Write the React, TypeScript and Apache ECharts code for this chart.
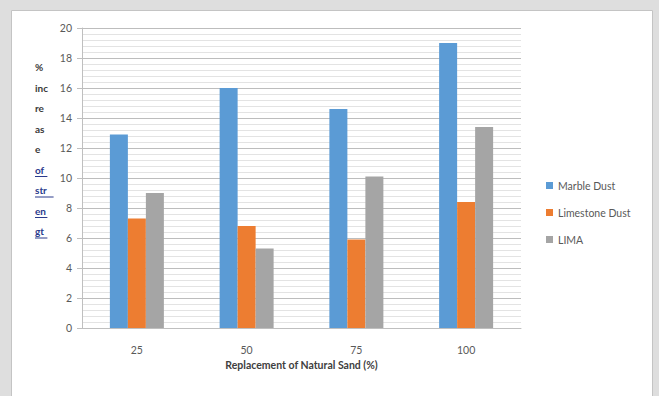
import React, { useEffect, useRef } from "react";
import * as echarts from "echarts";

const categories = ["25", "50", "75", "100"];
const marbleDust = [12.9, 16.0, 14.6, 19.0];
const limestoneDust = [7.3, 6.8, 5.9, 8.4];
const lima = [9.0, 5.3, 10.1, 13.4];
const seriesNames = ["Marble Dust", "Limestone Dust", "LIMA"];
const yTitleLines = ["%", "inc", "re", "as", "e", "of", "str", "en", "gt"];

const FONT = "Lato, 'Open Sans', 'DejaVu Sans', sans-serif";

export default function App() {
  const ref = useRef<HTMLDivElement>(null);

  useEffect(() => {
    if (!ref.current) return;
    const chart = echarts.init(ref.current, null, { renderer: "svg" });

    // wrapped y-axis caption; the last four fragments are link-styled
    const captionTexts = yTitleLines.map((t, i) => ({
      type: "text" as const,
      left: 35,
      top: 62 + i * 20.5,
      style: {
        text: t,
        font: `bold 10px ${FONT}`,
        fill: i >= 5 ? "#2a3a8c" : "#3a3a3a",
      },
    }));
    const underlines = yTitleLines.slice(5).map((t, i) => ({
      type: "line" as const,
      shape: {
        x1: 35,
        y1: 62 + (i + 5) * 20.5 + 12,
        x2: 35 + t.length * 6.2,
        y2: 62 + (i + 5) * 20.5 + 12,
      },
      style: { stroke: "#2a3a8c", lineWidth: 1 },
    }));

    chart.setOption({
      animation: false,
      backgroundColor: "#dedede",
      color: ["#5b9bd5", "#ed7d31", "#a5a5a5"],
      textStyle: { fontFamily: FONT },
      graphic: [
        {
          type: "rect",
          z: -10,
          shape: { x: 11.5, y: 10.5, width: 641, height: 400 },
          style: { fill: "#ffffff", stroke: "#c4c4c4", lineWidth: 1 },
        },
        ...captionTexts,
        ...underlines,
      ],
      grid: { left: 82, right: 138, top: 28, bottom: 68, containLabel: false },
      legend: {
        orient: "vertical",
        left: 541,
        top: 175,
        itemWidth: 7,
        itemHeight: 7,
        itemGap: 16,
        icon: "rect",
        data: seriesNames,
        textStyle: { fontSize: 10.5, color: "#595959", fontFamily: FONT },
      },
      xAxis: {
        type: "category",
        data: categories,
        name: "Replacement of Natural Sand (%)",
        nameLocation: "middle",
        nameGap: 30,
        nameTextStyle: { fontWeight: "bold", fontSize: 10.5, color: "#404040", fontFamily: FONT },
        axisLine: { show: true, lineStyle: { color: "#bfbfbf" } },
        axisTick: { show: false },
        axisLabel: { color: "#595959", fontSize: 10.5, margin: 16 },
        splitLine: { show: false },
      },
      yAxis: {
        type: "value",
        min: 0,
        max: 20,
        interval: 2,
        axisLine: { show: true, lineStyle: { color: "#bfbfbf" } },
        axisTick: { show: true, length: 5, lineStyle: { color: "#bfbfbf" } },
        axisLabel: { color: "#595959", fontSize: 10.5, margin: 10 },
        splitLine: { show: true, lineStyle: { color: "#bdbdbd", width: 1 } },
        minorTick: { show: false, splitNumber: 5 },
        minorSplitLine: { show: true, lineStyle: { color: "#e3e3e3", width: 1 } },
      },
      series: [
        { name: seriesNames[0], type: "bar", data: marbleDust, barWidth: 18, barGap: "0%" },
        { name: seriesNames[1], type: "bar", data: limestoneDust, barWidth: 18, barGap: "0%" },
        { name: seriesNames[2], type: "bar", data: lima, barWidth: 18, barGap: "0%" },
      ],
    });

    return () => chart.dispose();
  }, []);

  return (
    <div
      ref={ref}
      style={{ position: "fixed", left: 0, top: 0, width: 659, height: 396 }}
    />
  );
}
